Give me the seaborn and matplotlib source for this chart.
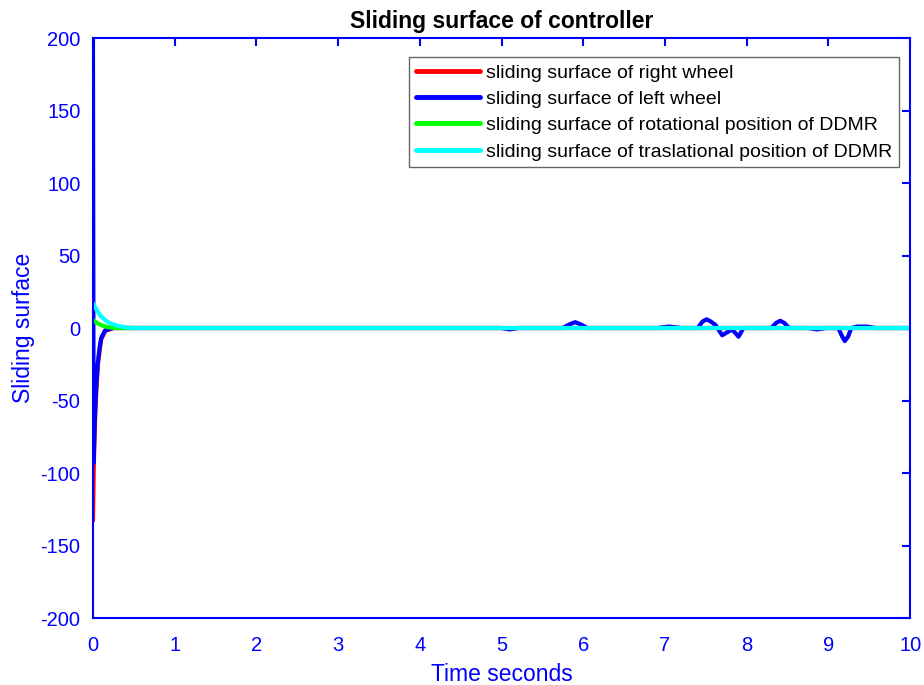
import matplotlib
matplotlib.use("Agg")
import matplotlib.pyplot as plt
import seaborn as sns
import pandas as pd

# Sliding surface samples (time in seconds, surface value)
t_right = [0, 0.01, 0.03, 0.06, 0.1, 0.15, 0.25, 0.5, 5.0, 5.1, 5.2, 10]
s_right = [-133, -95, -55, -25, -8, -2, 0, 0, 0, -0.6, 0, 0]

t_left = [0, 0.008, 0.02, 0.04, 0.06, 0.08, 0.1, 0.15, 0.25, 0.5, 5.0, 5.1, 5.2,
          5.75, 5.83, 5.9, 5.97, 6.05,
          6.9, 7.05, 7.2, 7.4, 7.46, 7.51, 7.56, 7.62, 7.7, 7.76, 7.82, 7.87, 7.9, 7.96,
          8.3, 8.36, 8.41, 8.46, 8.52,
          8.75, 8.86, 8.97, 9.12, 9.17, 9.2, 9.24, 9.28, 9.35, 9.47, 9.58, 10]
s_left = [200, -93, -68, -40, -24, -14, -7, -1.5, 0, 0, 0, -1, 0,
          0, 2.5, 4, 2.5, 0,
          0, 1, 0, 0, 4.5, 6, 4.5, 2, -5, -3, -1, -4, -6, 0,
          0, 3.5, 5, 3.5, 0,
          0, -1, 0, 0, -6, -9, -6, 0, 1, 1, 0, 0]

t_rot = [0, 0.05, 0.1, 0.15, 0.25, 10]
s_rot = [5.5, 3.5, 2, 1, 0, 0]

t_tra = [0, 0.05, 0.1, 0.15, 0.2, 0.3, 0.4, 0.5, 10]
s_tra = [17, 12, 8, 5.5, 3.5, 1.5, 0.5, 0, 0]

labels = ["sliding surface of right wheel",
          "sliding surface of left wheel",
          "sliding surface of rotational position of DDMR",
          "sliding surface of traslational position of DDMR"]
colors = ["#ff0000", "#0000ff", "#00ff00", "#00ffff"]

x_ticks = list(range(0, 11))
y_ticks = [-200, -150, -100, -50, 0, 50, 100, 150, 200]

sns.set_theme(style="white")
plt.rcParams["font.family"] = ["Liberation Sans", "DejaVu Sans"]
plt.rcParams["axes.unicode_minus"] = False

fig = plt.figure(figsize=(9.24, 6.85), dpi=100)
ax = fig.add_axes([0.1006, 0.0978, 0.8844, 0.8467])

series = [(t_right, s_right), (t_left, s_left), (t_rot, s_rot), (t_tra, s_tra)]
for (tt, ss), lab, col in zip(series, labels, colors):
    df = pd.DataFrame({"t": tt, "s": ss})
    sns.lineplot(data=df, x="t", y="s", ax=ax, color=col, linewidth=3,
                 label=lab, sort=False, estimator=None)

ax.set_xlim(0, 10)
ax.set_ylim(-200, 200)
ax.set_xticks(x_ticks)
ax.set_yticks(y_ticks)

axis_color = "#0000ff"
for sp in ax.spines.values():
    sp.set_color(axis_color)
    sp.set_linewidth(1.5)
    sp.set_visible(True)
ax.tick_params(axis="both", which="both", direction="in", length=6, width=1.5,
               colors=axis_color, labelsize=14.5, top=True, right=True,
               labeltop=False, labelright=False)
ax.tick_params(axis="x", pad=13)
ax.tick_params(axis="y", pad=9)

ax.set_xlabel("Time seconds", fontsize=16.5, color=axis_color, labelpad=6)
ax.set_ylabel("Sliding surface", fontsize=16.5, color=axis_color, labelpad=4)
ax.set_title("Sliding surface of controller", fontsize=16.5, fontweight="bold",
             color="black", pad=7)

leg = ax.legend(loc="upper right", bbox_to_anchor=(0.986, 0.967), fontsize=14,
                frameon=True, fancybox=False, borderpad=0.35, labelspacing=0.45,
                handlelength=3.3, handletextpad=0.3, borderaxespad=0)
leg.get_frame().set_edgecolor("#404040")
leg.get_frame().set_linewidth(1.0)
for txt in leg.get_texts():
    txt.set_color("black")
for line in leg.get_lines():
    line.set_linewidth(3.5)

fig.savefig("out.png", dpi=100)
